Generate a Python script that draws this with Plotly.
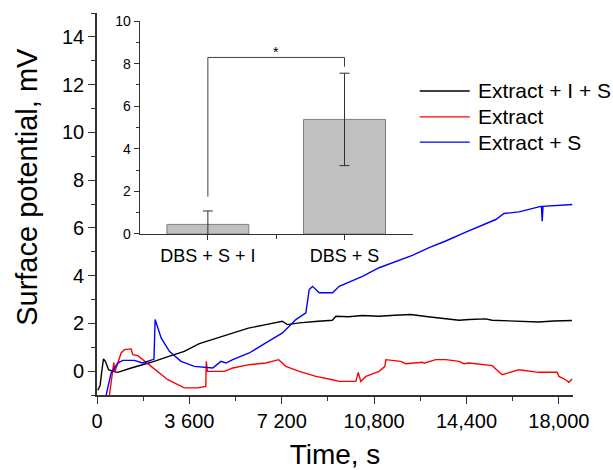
import plotly.graph_objects as go

FONT = "Arial, Liberation Sans, sans-serif"

# Surface potential time series (time in s, potential in mV)
black_t = [30, 120, 200, 253, 330, 450, 600, 810, 1300, 2110, 2800, 3400, 3990, 4500,
           5280, 5900, 6580, 7000, 7220, 7420, 7880, 8500, 9170, 9310, 9800, 10340,
           11000, 11600, 12230, 12900, 13590, 14110, 14500, 15150, 15400, 16300,
           17220, 17800, 18510]
black_v = [-0.8, -0.6, 0.1, 0.51, 0.4, 0.06, 0.0, -0.05, 0.12, 0.37, 0.62, 0.83, 1.15,
           1.32, 1.61, 1.8, 1.95, 2.05, 2.09, 1.95, 2.02, 2.08, 2.13, 2.3, 2.28, 2.33,
           2.3, 2.34, 2.37, 2.28, 2.19, 2.13, 2.16, 2.19, 2.13, 2.1, 2.06, 2.1, 2.12]

red_t = [486, 616, 655, 690, 940, 1070, 1330, 1395, 1590, 2110, 2760, 3400, 3920,
         4240, 4260, 4300, 4440, 4960, 5290, 5935, 6580, 7080, 7360, 7880, 8530, 9180,
         9440, 10090, 10180, 10280, 10480, 10995, 11220, 11255, 11840, 12030, 12680,
         12750, 13200, 13590, 14110, 14300, 14500, 15400, 15790, 16440, 17220, 17930,
         18000, 18260, 18390, 18520]
red_v = [-1.0, -0.08, 0.36, -0.05, 0.76, 0.9, 0.93, 0.69, 0.65, 0.2, -0.36, -0.7, -0.7,
         -0.64, 0.41, 0.0, -0.01, -0.01, 0.13, 0.27, 0.34, 0.48, 0.2, -0.01, -0.22, -0.36,
         -0.43, -0.43, -0.05, -0.43, -0.22, -0.01, 0.2, 0.48, 0.41, 0.31, 0.37, 0.33,
         0.48, 0.48, 0.41, 0.31, 0.34, 0.23, -0.15, 0.06, -0.05, -0.05, -0.22, -0.36,
         -0.47, -0.33]

blue_t = [357, 450, 550, 810, 1005, 1460, 1785, 2170, 2220, 2265, 2500, 2820, 3275,
          3795, 4440, 4510, 4830, 5030, 5290, 5935, 6580, 7230, 7750, 8075, 8140, 8270,
          8400, 8660, 9180, 9440, 10345, 10995, 12290, 12940, 13590, 14370, 15540,
          15860, 16445, 17220, 17320, 17350, 17380, 18520]
blue_v = [-1.0, -0.5, -0.08, 0.34, 0.45, 0.45, 0.34, 0.48, 0.5, 2.16, 1.39, 0.83, 0.41,
          0.2, 0.13, 0.13, 0.41, 0.34, 0.48, 0.76, 1.18, 1.6, 2.16, 2.37, 2.44, 3.42,
          3.55, 3.28, 3.28, 3.55, 3.97, 4.33, 4.85, 5.17, 5.45, 5.82, 6.35, 6.6, 6.67,
          6.88, 6.9, 6.28, 6.9, 6.98]

series_names = ["Extract + I + S", "Extract", "Extract + S"]
series_colors = ["#000000", "#ff0000", "#0000ff"]

x_tickvals = [0, 3600, 7200, 10800, 14400, 18000]
x_ticktext = ["0", "3 600", "7 200", "10,800", "14,400", "18,000"]

# Inset bar chart
inset_cats = ["DBS + S + I", "DBS + S"]
inset_vals = [0.45, 5.38]
inset_err = [0.63, 2.17]
bracket_x = [0, 0, 1, 1]
bracket_y = [1.75, 8.29, 8.29, 7.85]

fig = go.Figure()

for t, v, name, color in zip([black_t, red_t, blue_t], [black_v, red_v, blue_v],
                             series_names, series_colors):
    fig.add_trace(go.Scatter(x=t, y=v, mode="lines", name=name,
                             line=dict(color=color, width=1.4), showlegend=False))

fig.add_trace(go.Bar(x=[0, 1], y=inset_vals, width=0.6, xaxis="x2", yaxis="y2",
                     marker=dict(color="#c0c0c0", line=dict(color="#808080", width=1)),
                     error_y=dict(type="data", array=inset_err, color="#303030",
                                  thickness=1, width=5),
                     cliponaxis=False, showlegend=False))
fig.add_trace(go.Scatter(x=bracket_x, y=bracket_y, mode="lines", xaxis="x2", yaxis="y2",
                         line=dict(color="#404040", width=1), showlegend=False,
                         cliponaxis=False))

axis_common = dict(showline=True, linecolor="#333333", linewidth=1.6, ticks="outside",
                   tickcolor="#333333", tickwidth=1.4, ticklen=7, showgrid=False,
                   zeroline=False, mirror=False, automargin=False)

# Legend drawn as sample lines plus labels in paper coordinates
legend_x0, legend_x1, legend_tx = 0.678, 0.783, 0.796
legend_rows = [0.796, 0.728, 0.662]
shapes = []
annotations = []
for name, color, yy in zip(series_names, series_colors, legend_rows):
    shapes.append(dict(type="line", xref="paper", yref="paper", x0=legend_x0,
                       x1=legend_x1, y0=yy, y1=yy, line=dict(color=color, width=1.4)))
    annotations.append(dict(text=name, xref="paper", yref="paper", x=legend_tx, y=yy,
                            xanchor="left", yanchor="middle", showarrow=False,
                            font=dict(size=21)))

annotations += [
    dict(text="Surface potential, mV", textangle=-90, xref="paper", yref="paper",
         x=-0.147, y=0.545, xanchor="center", yanchor="middle",
         showarrow=False, font=dict(size=29)),
    dict(text="*", xref="x2", yref="y2", x=0.5, y=8.55, showarrow=False,
         font=dict(size=14), yanchor="middle"),
]

fig.update_layout(
    width=613, height=470,
    margin=dict(l=97, r=40, t=13, b=75, autoexpand=False),
    paper_bgcolor="white", plot_bgcolor="white",
    font=dict(family=FONT, color="#000000"),
    showlegend=False,
    xaxis=dict(range=[0, 18550], tickvals=x_tickvals, ticktext=x_ticktext,
               tickfont=dict(size=20),
               minor=dict(tickvals=[1800, 5400, 9000, 12600, 16200], ticks="outside",
                          ticklen=4, tickcolor="#333333", tickwidth=1.4),
               title=dict(text="Time, s", font=dict(size=28), standoff=22),
               **axis_common),
    yaxis=dict(range=[-1, 15], tickvals=[0, 2, 4, 6, 8, 10, 12, 14],
               tickfont=dict(size=20),
               minor=dict(dtick=1, tick0=-1, ticks="outside", ticklen=4,
                          tickcolor="#333333", tickwidth=1.4),
               **axis_common),
    xaxis2=dict(domain=[0.0894, 0.6635], anchor="y2", range=[-0.5, 1.5],
                tickvals=[0, 1], ticktext=inset_cats, tickfont=dict(size=18),
                minor=dict(tickvals=[0.5], ticks="outside", ticklen=4,
                           tickcolor="#333333", tickwidth=1),
                showline=True, linecolor="#333333", linewidth=1, ticks="outside",
                ticklen=5, tickwidth=1, tickcolor="#333333", showgrid=False,
                zeroline=False, automargin=False),
    yaxis2=dict(domain=[0.4215, 0.979], anchor="x2", range=[0, 10],
                tickvals=[0, 2, 4, 6, 8, 10], tickfont=dict(size=14),
                minor=dict(dtick=1, ticks="outside", ticklen=3, tickcolor="#333333",
                           tickwidth=1),
                showline=True, linecolor="#333333", linewidth=1, ticks="outside",
                ticklen=5, tickwidth=1, tickcolor="#333333", showgrid=False,
                zeroline=False, automargin=False),
    shapes=shapes,
    annotations=annotations,
)

fig.write_html("out.html")
